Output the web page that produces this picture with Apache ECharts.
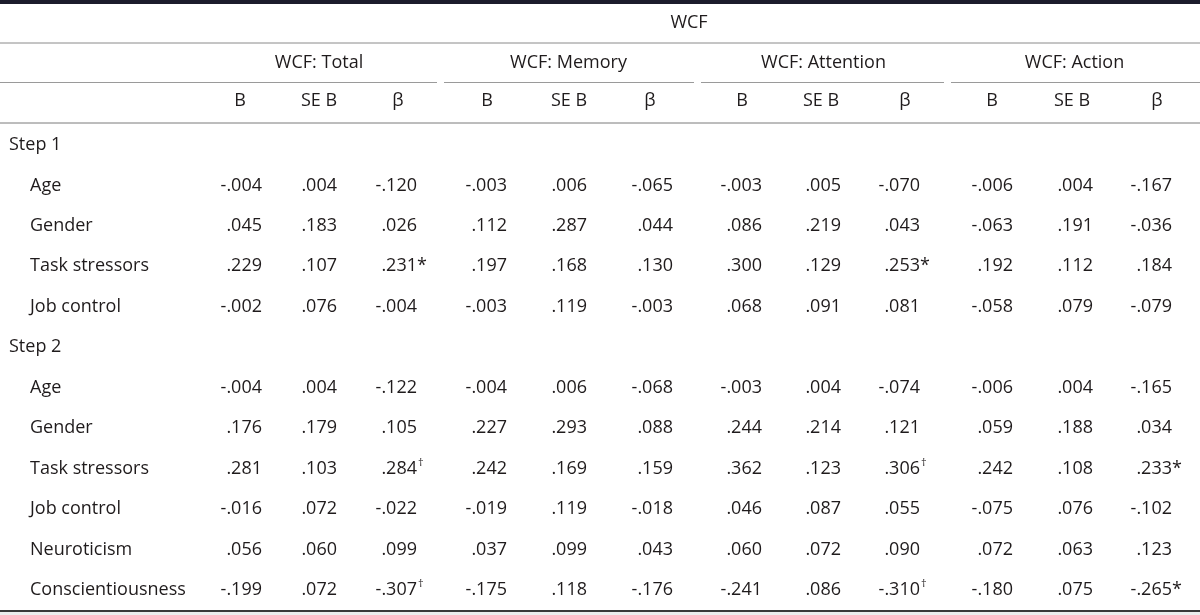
<!DOCTYPE html>
<html>
<head>
<meta charset="utf-8">
<script src="https://cdn.jsdelivr.net/npm/echarts@6/dist/echarts.min.js"></script>
<style>html,body{margin:0;padding:0;background:#fff}#chart{width:1200px;height:615px}</style>
</head>
<body>
<div id="chart"></div>
<script>
// ---------------- DATA ----------------
const topHeader = 'WCF';
const groups = ['WCF: Total', 'WCF: Memory', 'WCF: Attention', 'WCF: Action'];
const subCols = ['B', 'SE B', 'β'];
const rowLabels = ['Step 1', 'Age', 'Gender', 'Task stressors', 'Job control',
                   'Step 2', 'Age', 'Gender', 'Task stressors', 'Job control', 'Neuroticism', 'Conscientiousness'];
const rowIsStep = [true, false, false, false, false, true, false, false, false, false, false, false];
const step1Age      = ['-.004', '.004', '-.120', '-.003', '.006', '-.065', '-.003', '.005', '-.070', '-.006', '.004', '-.167'];
const step1Gender   = ['.045', '.183', '.026', '.112', '.287', '.044', '.086', '.219', '.043', '-.063', '.191', '-.036'];
const step1Task     = ['.229', '.107', '.231*', '.197', '.168', '.130', '.300', '.129', '.253*', '.192', '.112', '.184'];
const step1Job      = ['-.002', '.076', '-.004', '-.003', '.119', '-.003', '.068', '.091', '.081', '-.058', '.079', '-.079'];
const step2Age      = ['-.004', '.004', '-.122', '-.004', '.006', '-.068', '-.003', '.004', '-.074', '-.006', '.004', '-.165'];
const step2Gender   = ['.176', '.179', '.105', '.227', '.293', '.088', '.244', '.214', '.121', '.059', '.188', '.034'];
const step2Task     = ['.281', '.103', '.284†', '.242', '.169', '.159', '.362', '.123', '.306†', '.242', '.108', '.233*'];
const step2Job      = ['-.016', '.072', '-.022', '-.019', '.119', '-.018', '.046', '.087', '.055', '-.075', '.076', '-.102'];
const step2Neuro    = ['.056', '.060', '.099', '.037', '.099', '.043', '.060', '.072', '.090', '.072', '.063', '.123'];
const step2Consc    = ['-.199', '.072', '-.307†', '-.175', '.118', '-.176', '-.241', '.086', '-.310†', '-.180', '.075', '-.265*'];
const rowValues = [null, step1Age, step1Gender, step1Task, step1Job,
                   null, step2Age, step2Gender, step2Task, step2Job, step2Neuro, step2Consc];

// ---------------- LAYOUT ----------------
const W = 1200, H = 615;
const FONT = '"Open Sans", "Noto Sans", sans-serif';
const TEXT = '#1f1b1c';
const colRight  = [262, 337, 417, 507, 587, 673, 762, 841, 920, 1013, 1093, 1172];
const colCenter = [240, 319, 398, 487, 569, 650, 742, 821, 905, 992, 1072, 1157];
const headY = [23, 63, 101];
const bodyY0 = 145, bodyStep = 40.45;
const topCenterX = 689;
const groupSpans = [[0, 437], [444, 694], [701, 944], [951, 1200]];
const rules = [
  {x1: 0, x2: W, y: 2, w: 4, c: '#1c1c2c'},
  {x1: 0, x2: W, y: 43, w: 1, c: '#8a8a8a'},
  ...groupSpans.map(s => ({x1: s[0], x2: s[1], y: 82.5, w: 1, c: '#9a9a9a'})),
  {x1: 0, x2: W, y: 123, w: 1, c: '#7a7a7a'},
  {x1: 0, x2: W, y: 611, w: 2, c: '#3a3a3a'}
];

// build text cells
const cells = [];
cells.push([topCenterX, headY[0], topHeader, '', 'center']);
groups.forEach((g, gi) => {
  const cx = (colCenter[gi * 3] + colCenter[gi * 3 + 2]) / 2;
  cells.push([cx, headY[1], g, '', 'center']);
  subCols.forEach((s, si) => cells.push([colCenter[gi * 3 + si], headY[2], s, '', 'center']));
});
rowLabels.forEach((lab, r) => {
  const y = bodyY0 + r * bodyStep;
  cells.push([rowIsStep[r] ? 9 : 30, y, lab, '', 'left']);
  const vals = rowValues[r];
  if (vals) vals.forEach((v, c) => {
    const m = v.match(/^(.*?)([*†]?)$/);
    cells.push([colRight[c], y, m[1], m[2], 'right']);
  });
});

const chart = echarts.init(document.getElementById('chart'), null, {renderer: 'canvas'});
chart.setOption({
  animation: false,
  backgroundColor: '#ffffff',
  grid: {left: 0, right: 0, top: 0, bottom: 0},
  xAxis: {type: 'value', min: 0, max: W, show: false},
  yAxis: {type: 'value', min: 0, max: H, inverse: true, show: false},
  graphic: [{type: 'rect', shape: {x: 0, y: 612, width: W, height: 3}, style: {fill: '#eceeee'}, z: -1}],
  series: [
    {
      type: 'custom',
      coordinateSystem: 'cartesian2d',
      data: rules.map(r => [r.x1, r.y, r.x2, r.w, r.c]),
      renderItem: function (params, api) {
        const d = rules[params.dataIndex];
        const p1 = api.coord([d.x1, d.y]);
        const p2 = api.coord([d.x2, d.y]);
        return {type: 'line', shape: {x1: p1[0], y1: p1[1], x2: p2[0], y2: p2[1]},
                style: {stroke: d.c, lineWidth: d.w}};
      }
    },
    {
      type: 'custom',
      coordinateSystem: 'cartesian2d',
      data: cells.map(c => [c[0], c[1]]),
      renderItem: function (params, api) {
        const d = cells[params.dataIndex];
        const p = api.coord([d[0], d[1]]);
        const children = [{
          type: 'text', x: p[0], y: p[1],
          style: {text: d[2], fill: TEXT, font: '18px ' + FONT, align: d[4], verticalAlign: 'middle'}
        }];
        if (d[3] === '*') {
          children.push({type: 'text', x: p[0], y: p[1],
            style: {text: '*', fill: TEXT, font: '18px ' + FONT, align: 'left', verticalAlign: 'middle'}});
        } else if (d[3] === '†') {
          children.push({type: 'text', x: p[0] + 1, y: p[1] - 6,
            style: {text: '†', fill: TEXT, font: '11px ' + FONT, align: 'left', verticalAlign: 'middle'}});
        }
        return {type: 'group', children: children};
      }
    }
  ]
});
</script>
</body>
</html>
